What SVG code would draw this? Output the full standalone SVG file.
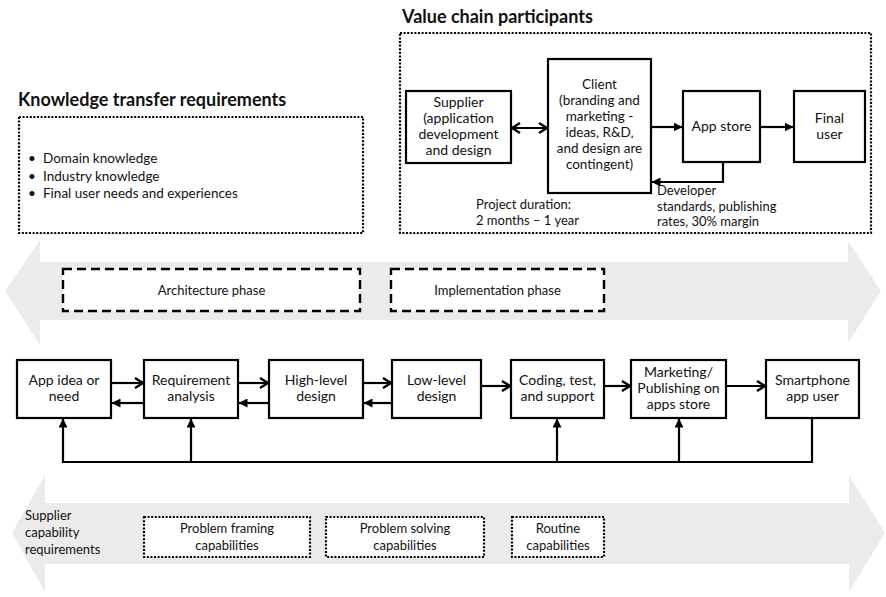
<svg xmlns="http://www.w3.org/2000/svg" width="886" height="597" viewBox="0 0 886 597">
<defs>
<marker id="open" viewBox="0 0 10 12" refX="9" refY="6" markerWidth="10" markerHeight="12" markerUnits="userSpaceOnUse" orient="auto-start-reverse">
<path d="M1,1 L9,6 L1,11" fill="none" stroke="#000" stroke-width="2.4"/>
</marker>
<marker id="tri" viewBox="0 0 9 9" refX="8.5" refY="4.5" markerWidth="9" markerHeight="9" markerUnits="userSpaceOnUse" orient="auto">
<path d="M0,0 L9,4.5 L0,9 z" fill="#000"/>
</marker>
</defs>
<style>
text{font-family:Lato,"Liberation Sans",sans-serif;fill:#111}
.t{font-size:14px;text-anchor:middle}
.tc{font-size:13.5px;text-anchor:middle}
.s{font-size:13px}
.b{font-size:13.5px}
.h{font-size:18px;font-weight:bold}
.box{fill:#fff;stroke:#000;stroke-width:2.2}
.dot{fill:#fff;stroke:#000;stroke-width:2.2;stroke-dasharray:2 1.6}
.dash{fill:#fff;stroke:#000;stroke-width:2.4;stroke-dasharray:9 5}
.band{fill:#ebebeb}
.c{fill:none;stroke:#000;stroke-width:2.2}
</style>
<rect width="886" height="597" fill="#fff"/>

<g id="band-top">
<polygon class="band" points="5,291 40,240 40,262 848,262 848,241 881,291 848,343 848,320 40,320 40,345"/>
</g>
<g id="band-bottom">
<polygon class="band" points="12,533 45,475 45,503 849,503 849,475 885,533 849,592 849,564 45,564 45,592"/>
</g>

<g id="knowledge">
<text class="h" x="18" y="106">Knowledge transfer requirements</text>
<rect class="dot" x="19" y="117" width="344" height="116"/>
<text class="b" x="28" y="163">•</text>
<text class="b" x="43" y="163">Domain knowledge</text>
<text class="b" x="28" y="181">•</text>
<text class="b" x="43" y="181">Industry knowledge</text>
<text class="b" x="28" y="198">•</text>
<text class="b" x="43" y="198">Final user needs and experiences</text>
</g>

<g id="value-chain">
<text class="h" x="402" y="23">Value chain participants</text>
<rect class="dot" x="400" y="33" width="471" height="200"/>
</g>
<g id="supplier">
<rect class="box" x="406" y="91" width="105" height="72"/>
<text class="t" x="458.5" y="107">Supplier</text>
<text class="t" x="458.5" y="123">(application</text>
<text class="t" x="458.5" y="139">development</text>
<text class="t" x="458.5" y="155">and design</text>
</g>
<g id="client">
<rect class="box" x="548" y="59" width="103" height="134"/>
<text class="tc" x="599.5" y="89">Client</text>
<text class="tc" x="599.5" y="105">(branding and</text>
<text class="tc" x="599.5" y="121">marketing -</text>
<text class="tc" x="599.5" y="137">ideas, R&amp;D,</text>
<text class="tc" x="599.5" y="153">and design are</text>
<text class="tc" x="599.5" y="169">contingent)</text>
</g>
<g id="appstore">
<rect class="box" x="683" y="91" width="77" height="71"/>
<text class="t" x="721.5" y="131">App store</text>
</g>
<g id="finaluser">
<rect class="box" x="794" y="91" width="71" height="71"/>
<text class="t" x="829.5" y="123">Final</text>
<text class="t" x="829.5" y="139">user</text>
</g>
<g id="notes">
<text class="s" x="476" y="209">Project duration:</text>
<text class="s" x="476" y="225">2 months – 1 year</text>
<text class="s" x="657" y="195">Developer</text>
<text class="s" x="657" y="211">standards, publishing</text>
<text class="s" x="657" y="226">rates, 30% margin</text>
</g>

<g id="phase-architecture">
<rect class="dash" x="63" y="269" width="297" height="42"/>
<text class="s" x="211.5" y="295" text-anchor="middle">Architecture phase</text>
</g>
<g id="phase-implementation">
<rect class="dash" x="391" y="269" width="213" height="42"/>
<text class="s" x="497.5" y="295" text-anchor="middle">Implementation phase</text>
</g>

<g id="n-app">
<rect class="box" x="17" y="360" width="94" height="58"/>
<text class="t" x="64" y="385">App idea or</text>
<text class="t" x="64" y="401">need</text>
</g>
<g id="n-req">
<rect class="box" x="144" y="360" width="94" height="58"/>
<text class="t" x="191" y="385">Requirement</text>
<text class="t" x="191" y="401">analysis</text>
</g>
<g id="n-high">
<rect class="box" x="269" y="360" width="94" height="58"/>
<text class="t" x="316" y="385">High-level</text>
<text class="t" x="316" y="401">design</text>
</g>
<g id="n-low">
<rect class="box" x="392" y="360" width="89" height="58"/>
<text class="t" x="436.5" y="385">Low-level</text>
<text class="t" x="436.5" y="401">design</text>
</g>
<g id="n-coding">
<rect class="box" x="511" y="360" width="93" height="58"/>
<text class="t" x="557.5" y="385">Coding, test,</text>
<text class="t" x="557.5" y="401">and support</text>
</g>
<g id="n-marketing">
<rect class="box" x="631" y="360" width="95" height="58"/>
<text class="t" x="678.5" y="377">Marketing/</text>
<text class="t" x="678.5" y="393">Publishing on</text>
<text class="t" x="678.5" y="409">apps store</text>
</g>
<g id="n-user">
<rect class="box" x="766" y="360" width="93" height="58"/>
<text class="t" x="812.5" y="385">Smartphone</text>
<text class="t" x="812.5" y="401">app user</text>
</g>

<g id="cap-framing">
<rect class="dot" x="144" y="517" width="166" height="40"/>
<text class="s" x="227" y="533" text-anchor="middle">Problem framing</text>
<text class="s" x="227" y="550" text-anchor="middle">capabilities</text>
</g>
<g id="cap-solving">
<rect class="dot" x="326" y="517" width="158" height="40"/>
<text class="s" x="405" y="533" text-anchor="middle">Problem solving</text>
<text class="s" x="405" y="550" text-anchor="middle">capabilities</text>
</g>
<g id="cap-routine">
<rect class="dot" x="512" y="517" width="92" height="40"/>
<text class="s" x="558" y="533" text-anchor="middle">Routine</text>
<text class="s" x="558" y="550" text-anchor="middle">capabilities</text>
</g>
<g id="supplier-cap-label">
<text class="s" x="25" y="520">Supplier</text>
<text class="s" x="25" y="537">capability</text>
<text class="s" x="25" y="554">requirements</text>
</g>

<g id="connectors">
<line class="c" x1="512" y1="128" x2="547" y2="128" marker-start="url(#open)" marker-end="url(#open)"/>
<line class="c" x1="652" y1="127" x2="682" y2="127" marker-end="url(#tri)"/>
<line class="c" x1="761" y1="127" x2="793" y2="127" marker-end="url(#tri)"/>
<polyline class="c" points="723,163 723,182 652,182" marker-end="url(#tri)"/>

<line class="c" x1="112" y1="383" x2="143" y2="383" marker-end="url(#open)"/>
<line class="c" x1="143" y1="403" x2="112" y2="403" marker-end="url(#tri)"/>
<line class="c" x1="239" y1="383" x2="268" y2="383" marker-end="url(#open)"/>
<line class="c" x1="268" y1="403" x2="239" y2="403" marker-end="url(#tri)"/>
<line class="c" x1="364" y1="383" x2="391" y2="383" marker-end="url(#open)"/>
<line class="c" x1="391" y1="403" x2="364" y2="403" marker-end="url(#tri)"/>
<line class="c" x1="482" y1="386" x2="510" y2="386" marker-end="url(#open)"/>
<line class="c" x1="605" y1="386" x2="630" y2="386" marker-end="url(#open)"/>
<line class="c" x1="727" y1="386" x2="765" y2="386" marker-end="url(#open)"/>

<polyline class="c" points="812,419 812,462 63,462 63,419" marker-end="url(#tri)"/>
<line class="c" x1="191" y1="462" x2="191" y2="419" marker-end="url(#tri)"/>
<line class="c" x1="557" y1="462" x2="557" y2="419" marker-end="url(#tri)"/>
<line class="c" x1="679" y1="462" x2="679" y2="419" marker-end="url(#tri)"/>
</g>
</svg>
